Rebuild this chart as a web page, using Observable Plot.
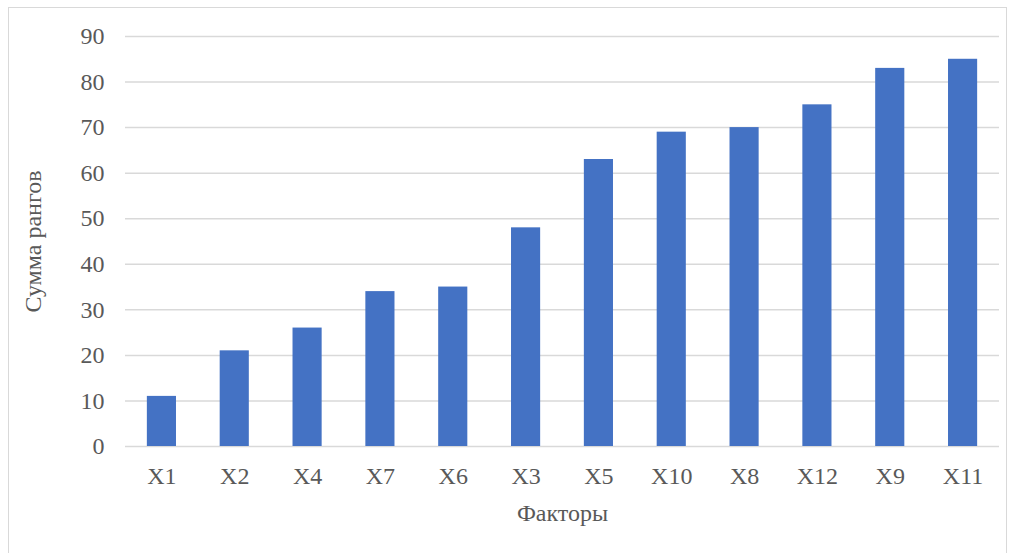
<!DOCTYPE html>
<html>
<head>
<meta charset="utf-8">
<script src="https://cdn.jsdelivr.net/npm/d3@7"></script>
<script src="https://cdn.jsdelivr.net/npm/@observablehq/plot@0.6"></script>
<style>
  html, body { margin: 0; padding: 0; background: #fff; }
  #wrap { position: relative; width: 1016px; height: 553px; overflow: hidden; }
  #border { position: absolute; left: 8px; top: 7px; width: 999px; height: 560px;
            border: 1px solid #d9d9d9; box-sizing: border-box; pointer-events: none; }
</style>
</head>
<body>
<div id="wrap"><div id="border"></div></div>
<script>
// Факторы, упорядоченные по сумме рангов
const factors = ["X1", "X2", "X4", "X7", "X6", "X3", "X5", "X10", "X8", "X12", "X9", "X11"];
const rankSums = [11, 21, 26, 34, 35, 48, 63, 69, 70, 75, 83, 85];
const yTicks = [0, 10, 20, 30, 40, 50, 60, 70, 80, 90];

const data = factors.map((f, i) => ({factor: f, value: rankSums[i]}));

const FONT = 24;

const chart = Plot.plot({
  width: 1016,
  height: 553,
  marginLeft: 125,
  marginRight: 17,
  marginTop: 36,
  marginBottom: 107,
  style: {fontFamily: "'Liberation Serif', 'Times New Roman', serif", fontSize: FONT + "px", color: "#595959", background: "transparent"},
  x: {domain: factors, paddingInner: 0.6, paddingOuter: 0.3, round: false, label: null},
  y: {domain: [0, 90], label: null},
  marks: [
    Plot.gridY(yTicks, {stroke: "#d9d9d9", strokeOpacity: 1, strokeWidth: 1.5}),
    Plot.barY(data, {x: "factor", y: "value", fill: "#4472C4"}),
    Plot.axisY(yTicks, {tickSize: 0, tickPadding: 21, fill: "#595959", fontSize: FONT,
      label: "Сумма рангов", labelAnchor: "center", labelArrow: "none", labelOffset: 102}),
    Plot.axisX({tickSize: 0, tickPadding: 20, fill: "#595959", fontSize: FONT,
      label: "Факторы", labelAnchor: "center", labelArrow: "none", labelOffset: 74})
  ]
});
document.getElementById("wrap").appendChild(chart);
</script>
</body>
</html>
